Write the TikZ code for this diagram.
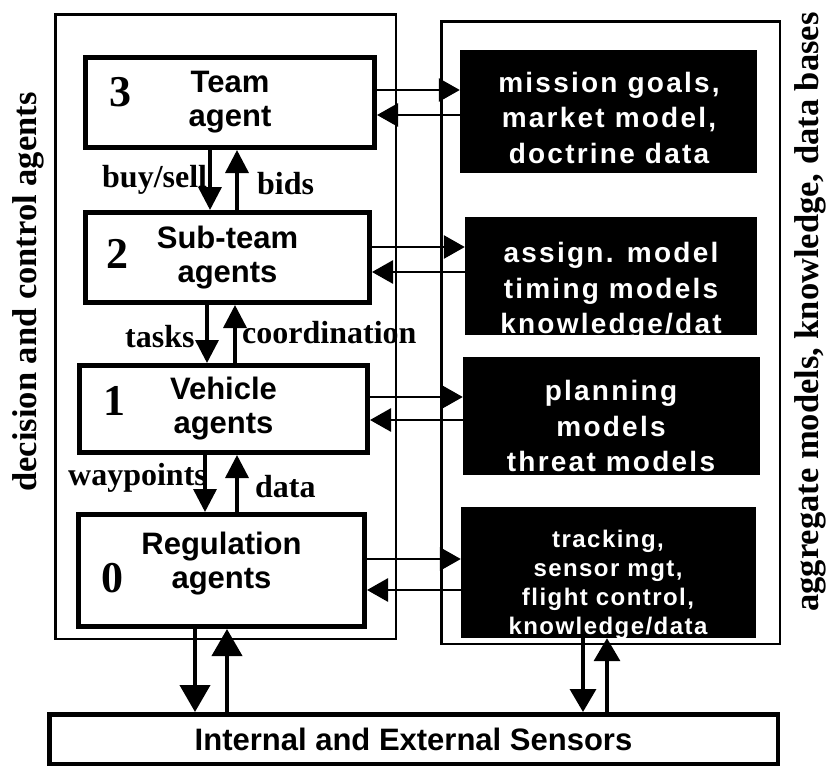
\documentclass[tikz,border=0pt]{standalone}
\usepackage{fontspec}
\usepackage{tikz}
\usetikzlibrary{arrows.meta}
\newfontfamily\sanshelv{Liberation Sans}
\newfontfamily\sanswide{Liberation Sans}[LetterSpace=8]
\newfontfamily\sanswidesmall{Liberation Sans}[LetterSpace=6]
\newfontfamily\serifroman{Liberation Serif}
\newcommand{\fntagent}{\sanshelv\bfseries\fontsize{31}{34}\selectfont}
\newcommand{\fntdata}{\sanswide\bfseries\fontsize{28}{35.5}\selectfont}
\newcommand{\fntdatasmall}{\sanswidesmall\bfseries\fontsize{24}{29}\selectfont}
\newcommand{\fntsensor}{\sanshelv\bfseries\fontsize{31}{34}\selectfont}
\newcommand{\fntlevel}{\serifroman\bfseries\fontsize{44}{44}\selectfont}
\newcommand{\fntflow}{\serifroman\bfseries\fontsize{32}{32}\selectfont}
\newcommand{\fntside}{\serifroman\bfseries\fontsize{34.5}{34.5}\selectfont}
\tikzstyle{node_panel} = [draw, line width=2.5pt, inner sep=0pt]
\tikzstyle{node_agent} = [draw, line width=5pt, inner sep=0pt, align=center, font=\fntagent]
\tikzstyle{node_data} = [fill=black, inner sep=0pt]
\tikzstyle{node_datatext} = [text=white, align=center, inner sep=0pt, font=\fntdata]
\tikzstyle{node_sensor} = [draw, line width=4.5pt, inner sep=0pt, font=\fntsensor]
\tikzstyle{node_level} = [inner sep=0pt, font=\fntlevel]
\tikzstyle{node_flow} = [inner sep=0pt, anchor=base west, font=\fntflow]
\tikzstyle{node_side} = [inner sep=0pt, rotate=90, font=\fntside]
\tikzstyle{edge_link} = [line width=3.5pt, -{Triangle[length=23pt, width=23pt]}]
\tikzstyle{edge_store} = [line width=2.8pt, -{Triangle[length=21pt, width=23pt]}]
\tikzstyle{edge_sense} = [line width=4pt, -{Triangle[length=27pt, width=30pt]}]
\tikzstyle{edge_sense_db} = [line width=3.5pt, -{Triangle[length=23pt, width=26pt]}]

\begin{document}
\begin{tikzpicture}[x=1pt, y=-1pt]
\useasboundingbox (0,0) rectangle (828,772);

% decision and control agents
\node (team) at (230,102.5) [node_agent, minimum width=289pt, minimum height=90pt] {Team\\agent};
\node (subteam) at (227.5,257.5) [node_agent, minimum width=284pt, minimum height=90pt] {Sub-team\\agents};
\node (vehicle) at (223.5,409) [node_agent, minimum width=288pt, minimum height=87pt] {Vehicle\\agents};
\node (regulation) at (221.5,570.5) [node_agent, minimum width=286pt, minimum height=112pt] {Regulation\\agents\rule[-21pt]{0pt}{21pt}};

\node (lvl3) at (120,92) [node_level] {3};
\node (lvl2) at (117,254) [node_level] {2};
\node (lvl1) at (114,401) [node_level] {1};
\node (lvl0) at (112,578) [node_level] {0};

% models and data bases
\node (d3) at (608.5,111.5) [node_data, minimum width=297pt, minimum height=123pt] {};
\node (d2) at (611,276) [node_data, minimum width=292pt, minimum height=118pt] {};
\node (d1) at (611.5,416) [node_data, minimum width=297pt, minimum height=118pt] {};
\node (d0) at (608.5,572.5) [node_data, minimum width=295pt, minimum height=131pt] {};

\node (d3_text) at (609,117.5) [node_datatext] {mission goals,\\market model,\\doctrine data};
\node (d2_text) at (611,291) [node_datatext] {assign. model\\timing models\\knowledge/dat};
\node (d1_text) at (611,426) [node_datatext] {planning\\models\\threat models};
\node (d0_text) at (608,585) [node_datatext, font=\fntdatasmall] {tracking,\\sensor mgt,\\flight control,\\knowledge/data};

\node (sensors) at (413.5,739) [node_sensor, minimum width=728.5pt, minimum height=49.5pt] {Internal and External Sensors};

% flows between levels
\draw[edge_link] ([xshift=-20pt]team.south) -- ([xshift=-20pt]team.south |- subteam.north);
\draw[edge_link] ([xshift=7pt]team.south |- subteam.north) -- ([xshift=7pt]team.south);
\draw[edge_link] ([xshift=-20.5pt]subteam.south) -- ([xshift=-20.5pt]subteam.south |- vehicle.north);
\draw[edge_link] ([xshift=7.5pt]subteam.south |- vehicle.north) -- ([xshift=7.5pt]subteam.south);
\draw[edge_link] ([xshift=-18.5pt]vehicle.south) -- ([xshift=-18.5pt]vehicle.south |- regulation.north);
\draw[edge_link] ([xshift=13.5pt]vehicle.south |- regulation.north) -- ([xshift=13.5pt]vehicle.south);

\node (buysell) at (102,187) [node_flow] {buy/sell};
\node (bids) at (257,194) [node_flow] {bids};
\node (tasks) at (125,347) [node_flow] {tasks};
\node (coordination) at (242,343) [node_flow] {coordination};
\node (waypoints) at (68,485) [node_flow] {waypoints};
\node (data) at (255,497) [node_flow] {data};

% agents <-> data bases
\draw[edge_store] ([yshift=12.5pt]team.east) -- ([yshift=12.5pt]team.east -| d3.west);
\draw[edge_store] ([yshift=-12.5pt]team.east -| d3.west) -- ([yshift=-12.5pt]team.east);
\draw[edge_store] ([yshift=10.5pt]subteam.east) -- ([yshift=10.5pt]subteam.east -| d2.west);
\draw[edge_store] ([yshift=-14.5pt]subteam.east -| d2.west) -- ([yshift=-14.5pt]subteam.east);
\draw[edge_store] ([yshift=12pt]vehicle.east) -- ([yshift=12pt]vehicle.east -| d1.west);
\draw[edge_store] ([yshift=-11pt]vehicle.east -| d1.west) -- ([yshift=-11pt]vehicle.east);
\draw[edge_store] ([yshift=11.5pt]regulation.east) -- ([yshift=11.5pt]regulation.east -| d0.west);
\draw[edge_store] ([yshift=-19.5pt]regulation.east -| d0.west) -- ([yshift=-19.5pt]regulation.east);

% sensors
\draw[edge_sense] ([xshift=-26.5pt]regulation.south) -- ([xshift=-26.5pt]regulation.south |- sensors.north);
\draw[edge_sense] ([xshift=5.5pt]regulation.south |- sensors.north) -- ([xshift=5.5pt]regulation.south);
\draw[edge_sense_db] ([xshift=-25.5pt]d0.south) -- ([xshift=-25.5pt]d0.south |- sensors.north);
\draw[edge_sense_db] ([xshift=-1.5pt]d0.south |- sensors.north) -- ([xshift=-1.5pt]d0.south);

% panels
\node (agents_panel) at (225.5,326.5) [node_panel, minimum width=340.5pt, minimum height=624.5pt] {};
\node (models_panel) at (610.5,332.5) [node_panel, minimum width=338.5pt, minimum height=622.5pt] {};
\node (agents_side) at (28,292) [node_side] {decision and control agents};
\node (models_side) at (810,312) [node_side] {aggregate models, knowledge, data bases};
\end{tikzpicture}
\end{document}
